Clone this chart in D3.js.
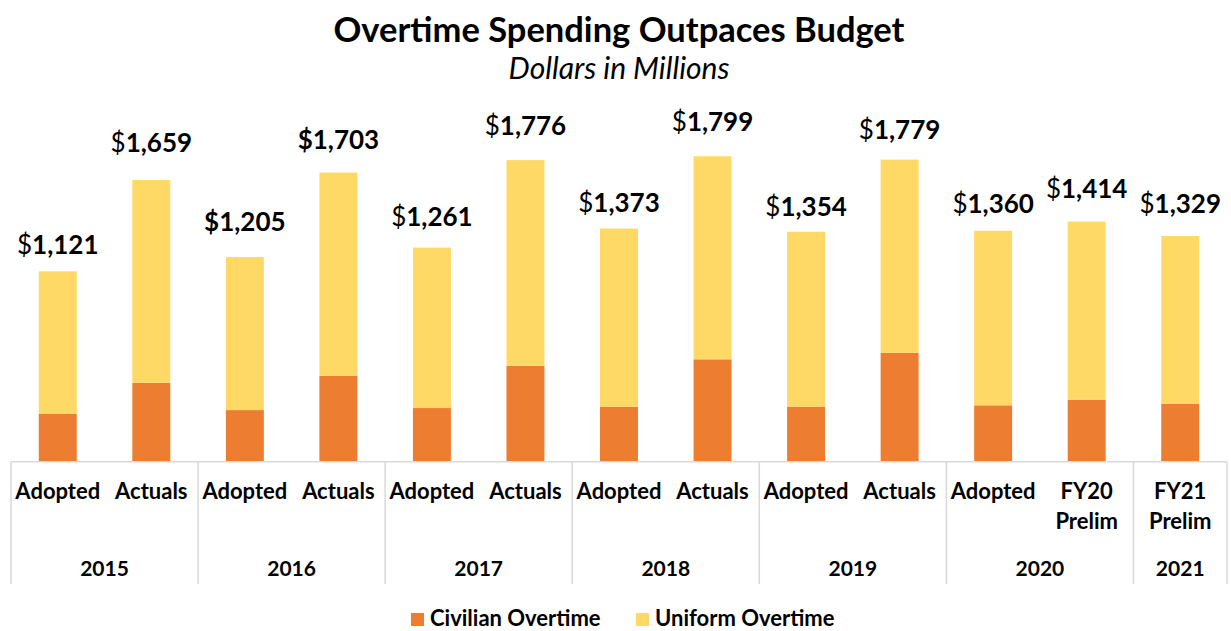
<!DOCTYPE html>
<html>
<head>
<meta charset="utf-8">
<script src="https://cdn.jsdelivr.net/npm/d3@7"></script>
<style>
  html, body { margin: 0; padding: 0; background: #fff; }
  svg { display: block; font-family: Lato, "Open Sans", sans-serif; }
</style>
</head>
<body>
<svg id="chart" width="1231" height="631"></svg>
<script>
// ---- data ----
const categories = ["Adopted", "Actuals", "Adopted", "Actuals", "Adopted", "Actuals", "Adopted", "Actuals", "Adopted", "Actuals", "Adopted", "FY20\nPrelim", "FY21\nPrelim"];
const years = ["2015", "2016", "2017", "2018", "2019", "2020", "2021"];
const yearSizes = [2, 2, 2, 2, 2, 2, 1];
const totals = [1121, 1659, 1205, 1703, 1261, 1776, 1373, 1799, 1354, 1779, 1360, 1414, 1329];
const civilian = [281, 465, 304, 506, 316, 565, 324, 603, 324, 642, 332, 365, 342];
const uniform = totals.map((t, i) => t - civilian[i]);
const seriesNames = ["Civilian Overtime", "Uniform Overtime"];

// ---- style ----
const colors = ["#ED7D31", "#FFD966"];
const labelLift = [17, 28, 26, 24, 22, 25, 17, 25, 16, 21, 18, 24, 23];
const boldDollar = new Set([2, 3]);

const svg = d3.select("#chart");

const x = d3.scaleBand()
  .domain(d3.range(categories.length))
  .range([11, 1227])
  .paddingInner(0.594)
  .paddingOuter(0.297);
const y = d3.scaleLinear().domain([0, 2000]).range([461.7, 461.7 - 2000 * 0.1698]);

// stacked bars
const rows = totals.map((t, i) => ({ i, civ: civilian[i], uni: uniform[i] }));
const stacked = d3.stack().keys(["civ", "uni"])(rows);

svg.append("g").selectAll("g")
  .data(stacked)
  .join("g")
  .attr("fill", (d, k) => colors[k])
  .selectAll("rect")
  .data(d => d)
  .join("rect")
  .attr("x", d => x(d.data.i))
  .attr("width", x.bandwidth())
  .attr("y", d => y(d[1]))
  .attr("height", d => y(d[0]) - y(d[1]));

// value labels
const lbl = svg.append("g").selectAll("text")
  .data(totals)
  .join("text")
  .attr("x", (d, i) => x(i) + x.bandwidth() / 2)
  .attr("y", (d, i) => y(d) - labelLift[i])
  .attr("text-anchor", "middle")
  .attr("font-size", 26)
  .attr("fill", "#000");
lbl.append("tspan")
  .attr("font-weight", (d, i) => boldDollar.has(i) ? 700 : 400)
  .text("$");
lbl.append("tspan")
  .attr("font-weight", 700)
  .text(d => d3.format(",")(d));

// axis line
const axisColor = "#D9D9D9";
const [r0, r1] = x.range();
svg.append("line")
  .attr("x1", r0).attr("x2", r1)
  .attr("y1", y(0)).attr("y2", y(0))
  .attr("stroke", axisColor).attr("stroke-width", 1.5);

// group separators
let cum = 0;
const bounds = [0];
yearSizes.forEach(s => { cum += s; bounds.push(cum); });
const step = x.step();
svg.append("g").selectAll("line")
  .data(bounds)
  .join("line")
  .attr("x1", b => r0 + b * step).attr("x2", b => r0 + b * step)
  .attr("y1", y(0)).attr("y2", 584)
  .attr("stroke", axisColor).attr("stroke-width", 1.5);

// category labels
const cat = svg.append("g").selectAll("text")
  .data(categories)
  .join("text")
  .attr("x", (d, i) => x(i) + x.bandwidth() / 2)
  .attr("y", 499)
  .attr("text-anchor", "middle")
  .attr("font-size", 22)
  .attr("font-weight", 700)
  .attr("fill", "#000");
cat.selectAll("tspan")
  .data(d => d.split("\n"))
  .join("tspan")
  .attr("x", function () { return d3.select(this.parentNode).attr("x"); })
  .attr("dy", (d, j) => j === 0 ? 0 : 30)
  .text(d => d);

// year labels
svg.append("g").selectAll("text")
  .data(years)
  .join("text")
  .attr("x", (d, k) => r0 + (bounds[k] + bounds[k + 1]) / 2 * step)
  .attr("y", 576)
  .attr("text-anchor", "middle")
  .attr("font-size", 21)
  .attr("font-weight", 700)
  .attr("fill", "#000")
  .text(d => d);

// title
svg.append("text")
  .attr("x", 619).attr("y", 42)
  .attr("text-anchor", "middle")
  .attr("font-size", 34.5)
  .attr("font-weight", 700)
  .attr("fill", "#000")
  .text("Overtime Spending Outpaces Budget");
svg.append("text")
  .attr("x", 619).attr("y", 79)
  .attr("text-anchor", "middle")
  .attr("font-size", 30)
  .attr("font-style", "italic")
  .attr("fill", "#000")
  .text("Dollars in Millions");

// legend
const legendX = [411, 636];
const lg = svg.append("g").selectAll("g")
  .data(seriesNames)
  .join("g")
  .attr("transform", (d, k) => `translate(${legendX[k]},613)`);
lg.append("rect").attr("width", 13).attr("height", 13).attr("fill", (d, k) => colors[k]);
lg.append("text")
  .attr("x", 19).attr("y", 13)
  .attr("font-size", 22)
  .attr("font-weight", 700)
  .attr("fill", "#000")
  .text(d => d);
</script>
</body>
</html>
